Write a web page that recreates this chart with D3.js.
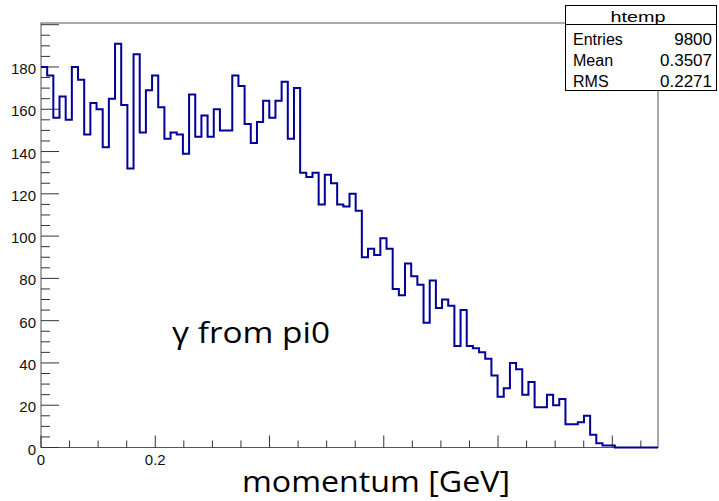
<!DOCTYPE html>
<html lang="en">
<head>
  <meta charset="UTF-8">
  <script src="https://cdn.jsdelivr.net/npm/d3@7/dist/d3.min.js"></script>
  <title>htemp</title>
  <style>
    body { margin: 0; background: #fff; }
  </style>
</head>
<body>
  <svg width="719" height="501" font-family="Liberation Sans, Arial, sans-serif"></svg>
  <script>
    // histogram content, 100 bins from 0 to 1.08
    var xMin = 0, xMax = 1.08, nBins = 100;
    var counts = [
      180, 176, 156, 166, 155, 180, 174, 148, 163, 160,
      142, 165, 191, 162, 132, 186, 149, 169, 176, 161,
      146, 149, 148, 139, 167, 147, 157, 147, 160, 150,
      150, 176, 171, 153, 144, 154, 164, 156, 164, 173,
      146, 170, 130, 128, 130, 115, 129, 125, 115, 114,
      120, 112, 90, 94, 91, 99, 94, 75, 72, 87,
      81, 77, 59, 79, 66, 70, 67, 48, 65, 48,
      47, 45, 42, 34, 24, 28, 40, 37, 25, 31,
      19, 19, 25, 20, 23, 11, 11, 12, 15, 6,
      2, 1, 1, 0, 0, 0, 0, 0, 0, 0
    ];
    var yTicks = [0, 20, 40, 60, 80, 100, 120, 140, 160, 180];
    var xTickLabels = [0, 0.2];   // the other labels are hidden on the slide
    var statNames = ["Entries", "Mean", "RMS"];
    var statValues = ["9800", "0.3507", "0.2271"];

    var svg = d3.select("svg");
    var frame = { left: 41, right: 658, top: 23, bottom: 447.5 };

    var x = d3.scaleLinear().domain([xMin, xMax]).range([frame.left, frame.right]);
    var y = d3.scaleLinear().domain([0, 200.8]).range([frame.bottom, frame.top]);

    var binW = (xMax - xMin) / nBins;

    // frame
    svg.append("rect")
      .attr("x", frame.left).attr("y", frame.top)
      .attr("width", frame.right - frame.left).attr("height", frame.bottom - frame.top)
      .attr("fill", "none").attr("stroke", "#555").attr("stroke-width", 1);

    // y ticks (inside the frame, ROOT style)
    var yMinor = d3.range(0, 200.8, 5);
    svg.append("g").selectAll("line").data(yMinor).enter().append("line")
      .attr("x1", frame.left)
      .attr("x2", d => frame.left + (d % 20 === 0 ? 18 : 9))
      .attr("y1", d => y(d)).attr("y2", d => y(d))
      .attr("stroke", "#333").attr("stroke-width", 1);

    svg.append("g").selectAll("text").data(yTicks).enter().append("text")
      .attr("x", 36).attr("y", d => y(d) + 7)
      .attr("text-anchor", "end")
      .attr("font-size", 15)
      .attr("fill", "#111")
      .text(d => d);

    // x ticks
    var xMinor = d3.range(0, xMax, 0.05);
    svg.append("g").selectAll("line").data(xMinor).enter().append("line")
      .attr("x1", d => x(d)).attr("x2", d => x(d))
      .attr("y1", frame.bottom)
      .attr("y2", (d, i) => frame.bottom - (i % 4 === 0 ? 12 : 7))
      .attr("stroke", "#333").attr("stroke-width", 1);

    svg.append("g").selectAll("text").data(xTickLabels).enter().append("text")
      .attr("x", d => x(d)).attr("y", 465)
      .attr("text-anchor", "middle")
      .attr("font-size", 15)
      .attr("fill", "#111")
      .text(d => d);

    // histogram outline
    var pts = [];
    counts.forEach(function (c, i) {
      pts.push([xMin + i * binW, c]);
      pts.push([xMin + (i + 1) * binW, c]);
    });
    var line = d3.line().x(d => x(d[0])).y(d => y(d[1]));
    svg.append("path")
      .attr("d", line(pts))
      .attr("fill", "none")
      .attr("stroke", "#000099")
      .attr("stroke-width", 2);

    // stats box
    var sb = svg.append("g");
    sb.append("rect")
      .attr("x", 565.5).attr("y", 5.5).attr("width", 151).attr("height", 85)
      .attr("fill", "#fff").attr("stroke", "#000").attr("stroke-width", 1);
    sb.append("line")
      .attr("x1", 565.5).attr("x2", 716.5).attr("y1", 24.5).attr("y2", 24.5)
      .attr("stroke", "#000");
    sb.append("text")
      .attr("x", 638).attr("y", 22).attr("text-anchor", "middle")
      .attr("font-size", 15)
      .attr("textLength", 55).attr("lengthAdjust", "spacingAndGlyphs")
      .text("htemp");
    sb.selectAll(".n").data(statNames).enter().append("text")
      .attr("x", 573).attr("y", (d, i) => 45 + i * 21)
      .attr("font-size", 16).text(d => d);
    sb.selectAll(".v").data(statValues).enter().append("text")
      .attr("x", 712).attr("y", (d, i) => 45 + i * 21)
      .attr("text-anchor", "end")
      .attr("font-size", 17).text(d => d);

    // slide annotations
    svg.append("text")
      .attr("x", 172).attr("y", 343)
      .attr("font-family", "Open Sans, sans-serif")
      .attr("font-size", 29)
      .attr("textLength", 158).attr("lengthAdjust", "spacingAndGlyphs")
      .text("γ from pi0");

    svg.append("text")
      .attr("x", 242).attr("y", 492)
      .attr("font-family", "Open Sans, sans-serif")
      .attr("font-size", 29)
      .attr("textLength", 268).attr("lengthAdjust", "spacingAndGlyphs")
      .text("momentum [GeV]");
  </script>
</body>
</html>
